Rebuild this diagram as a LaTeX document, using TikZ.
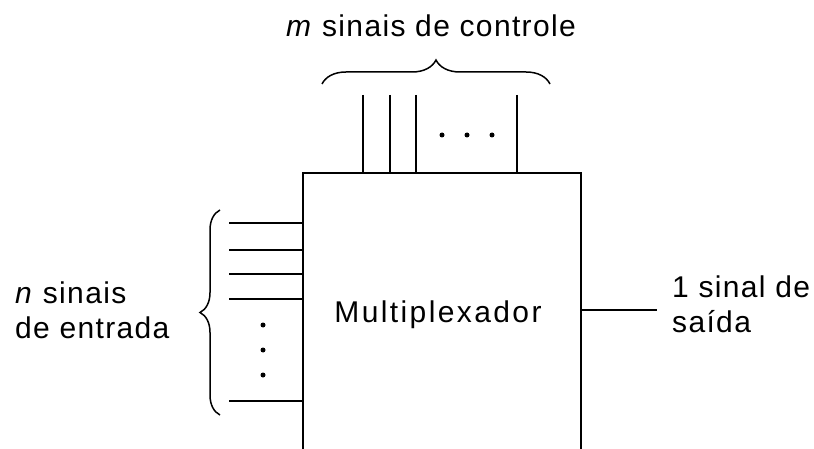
\documentclass[tikz,border=0pt]{standalone}
\usepackage{fontspec}
\setmainfont{Liberation Sans}[LetterSpace=4.5]
\usetikzlibrary{decorations.pathreplacing}
\tikzset{
  fio/.style={line width=1.7pt},
  rotulo/.style={font=\fontsize{30}{35}\selectfont, inner sep=0pt, align=left},
  ponto/.style={circle, fill=black, inner sep=0pt, minimum size=5pt},
  chave/.style={line width=1.5pt, decorate, decoration={brace, amplitude=#1}},
}
\begin{document}
\begin{tikzpicture}[x=1pt, y=-1pt]
  \clip (0,0) rectangle (814,449);

  % Bloco do multiplexador (a base fica fora da figura)
  \node[draw, line width=1.9pt, minimum width=278pt, minimum height=400pt,
        inner sep=0pt, anchor=north west] (mux) at (302,172) {};
  \node[rotulo, anchor=base] (nome) at (438,322)
    {\addfontfeatures{LetterSpace=8}Multiplexador};

  % Sinais de controle
  \foreach \x [count=\i] in {363,390,416,517} {
    \coordinate (c\i) at (\x,95);
    \draw[fio] (c\i) -- (c\i |- mux.north);
  }
  \foreach \x [count=\i] in {442,467,492}
    \node[ponto] (pc\i) at (\x,135) {};
  \coordinate (ca) at (322,84);
  \coordinate (cb) at (550,84);
  \draw[chave=24pt] (ca) -- (cb);
  \node[rotulo, anchor=base] (controle) at (431,37) {\textit{m} sinais de controle};

  % Sinais de entrada
  \foreach \y [count=\i] in {223,250,274,299,401} {
    \coordinate (e\i) at (229,\y);
    \draw[fio] (e\i) -- (e\i -| mux.west);
  }
  \foreach \y [count=\i] in {325,350,375}
    \node[ponto] (pe\i) at (263,\y) {};
  \coordinate (ea) at (220,415);
  \coordinate (eb) at (220,210);
  \draw[chave=20pt] (ea) -- (eb);
  \node[rotulo, anchor=base west] (entrada) at (15,338) {\textit{n} sinais\\de entrada};

  % Sinal de saida
  \coordinate (s) at (657,310);
  \draw[fio] (mux.east |- s) -- (s);
  \node[rotulo, anchor=base west] (saida) at (672,332) {1 sinal de\\saída};
\end{tikzpicture}
\end{document}
